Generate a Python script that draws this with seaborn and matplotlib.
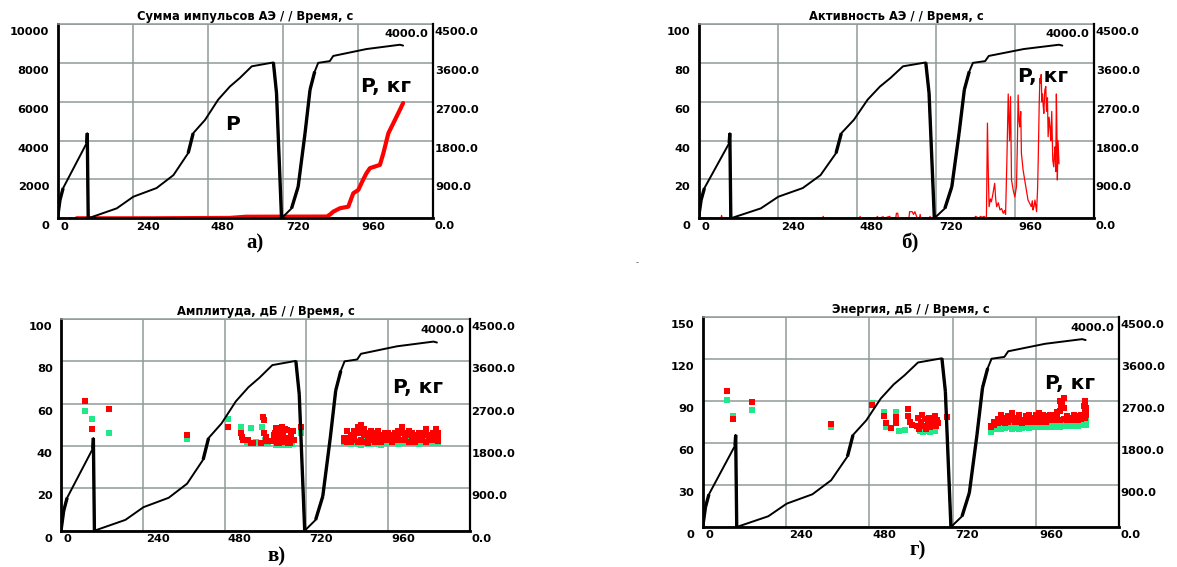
import matplotlib
matplotlib.use("Agg")
import matplotlib.pyplot as plt
import matplotlib.transforms as mtransforms
import numpy as np
import seaborn as sns

# load P, kg (right axis) -- same loading history on all four panels
p_time = [0, 8, 18, 93, 95, 98, 189, 242, 316, 370, 417, 433, 471, 513, 550, 582,
          620, 689, 699, 715, 747, 768, 790, 806, 821, 832, 869, 880, 986, 1093, 1103]
p_kg = [0, 425, 700, 1740, 1970, 0, 230, 500, 700, 1000, 1510, 1970, 2280, 2750, 3050, 3250,
        3520, 3610, 2900, 0, 230, 730, 1970, 2980, 3400, 3600, 3640, 3760, 3920, 4020, 4000]

# а) cumulative AE counts
sum_time = [61, 300, 550, 600, 860, 870, 880, 901, 928, 944, 960, 975, 986, 997,
            1029, 1040, 1056, 1072, 1093, 1103]
sum_counts = [0, 0, 20, 80, 90, 200, 340, 515, 600, 1290, 1460, 1975, 2320, 2580,
              2750, 3350, 4380, 4900, 5590, 5930]

# б) AE activity
act_time = [0, 68, 70, 72, 94, 96, 98,
            376, 378, 380, 488, 490, 492, 540, 542, 546, 560, 562, 580, 582,
            598, 600, 604, 606, 638, 640, 648, 652, 656, 660, 664, 670, 672, 674,
            700, 702, 704, 836, 840, 845, 850, 855, 860, 866, 870, 873,
            876, 879, 881, 885, 888, 892, 898, 901, 904, 909,
            914, 919, 924, 928, 931, 935, 939, 943, 946, 949,
            954, 959, 964, 967, 969, 972, 974, 977, 979, 984,
            989, 994, 999, 1004, 1009, 1012, 1014, 1017, 1020, 1025,
            1028, 1030, 1033, 1035, 1037, 1039, 1041, 1043, 1045, 1047,
            1050, 1053, 1055, 1058, 1060, 1063, 1066, 1068, 1071, 1074,
            1077, 1079, 1081, 1083, 1085, 1087, 1088, 1090, 1093]
act_rate = [0, 0, 1.5, 0, 0, 1.2, 0,
            0, 1, 0, 0, 1, 0, 0, 1, 0, 0.8, 0, 1, 0,
            0, 2.6, 2.6, 0, 0, 3.4, 3.4, 2, 3.4, 1.5, 0, 0, 2, 0,
            0, 1, 0, 0, 1, 0.5, 0, 1, 0.5, 1, 0, 1,
            49, 20, 6, 10, 8.5, 12, 18, 10, 6, 8,
            4.3, 5, 2.6, 4, 2, 30, 64, 40, 62.6, 19.7,
            14.6, 11, 16.3, 40, 63.5, 50, 47, 55, 33.5, 25,
            19.7, 14.6, 9.4, 7.7, 6, 9, 4.3, 6, 9.4, 3.4,
            15, 30, 59, 72, 69.5, 74, 60, 64, 58, 54,
            66, 67.8, 55, 62, 42, 52, 46, 40, 55, 30,
            26.5, 33, 36.8, 24, 64, 40, 19.7, 40, 28]

# hits in the dense band at the end of the test (в, г)
band_time = [830, 840, 850, 860, 870, 880, 890, 900, 910, 920, 930, 940, 950, 960, 970,
             980, 990, 1000, 1010, 1020, 1030, 1040, 1050, 1060, 1070, 1080, 1090, 1100, 1105]

# в) amplitude, dB
amp_red_time = [70, 92, 142, 370, 491]
amp_red_db = [61.3, 48, 57.5, 45.2, 49]
amp_green_time = [70, 92, 142, 370, 491]
amp_green_db = [56.5, 52.6, 46.3, 43.2, 52.8]
amp_mid_red_time = [527, 530, 535, 550, 556, 564, 586, 594, 595, 597, 600, 604, 623, 626, 628,
                    632, 634, 636, 640, 642, 644, 648, 650, 652, 656, 658, 660, 664, 666, 668,
                    672, 676, 680, 684, 703]
amp_mid_red_db = [46.3, 44.4, 42.8, 42.8, 41.2, 41.2, 41.2, 53.6, 52.2, 46, 44.4, 42.5, 42.5, 45, 46,
                  48.5, 41.5, 44, 41.5, 46, 47, 49, 43, 45.5, 42, 48, 44, 47.5, 41.5, 44,
                  41.5, 45, 47, 43, 49]
amp_mid_green_time = [527, 545, 557, 571, 590, 598, 603, 608, 630, 638, 646, 654, 662, 670, 678, 703]
amp_mid_green_db = [49, 41.5, 48.3, 42, 49, 43, 41.2, 41.5, 40.4, 40.4, 40.4, 40.4, 40.4, 40.4, 40.8, 46.3]
amp_band_red_top = [44, 47, 45, 47, 49, 50, 48, 46, 47, 46, 47, 45, 46, 46, 45,
                    46, 47, 49, 46, 47, 46, 45, 46, 46, 48, 45, 46, 48, 46]
amp_band_red_mid = [43, 44, 43, 45, 46, 47, 45, 44, 45, 44, 45, 44, 44, 45, 44,
                    45, 45, 46, 45, 45, 44, 44, 45, 44, 45, 44, 45, 45, 44]
amp_band_red_low = [42.5, 42, 42, 43, 42, 43, 42, 41.5, 43, 42, 43, 42, 43, 43, 42,
                    43, 43, 43, 43, 42, 43, 42, 43, 43, 42, 43, 43, 43, 42.5]
amp_band_green_low = [41.5, 41.5, 41, 41.5, 41, 40.5, 41.5, 41, 41, 41.5, 41, 40.5, 41.5, 41.5, 41.5,
                      41.5, 41, 41.5, 41.5, 41.5, 41.5, 41.5, 41, 41.5, 41.5, 41.5, 41.5, 41.5, 41.5]
amp_band_green_up = [43, 42.5, 43, 43, 42.5, 42, 43, 42.5, 42.5, 43, 42.5, 43, 43, 42.5, 43,
                     43, 42.5, 43, 43, 42.5, 43, 43, 42.5, 43, 42.5, 43, 43, 43, 43]

# г) energy, dB
en_red_time = [69, 88, 143, 370, 488]
en_red_db = [96.8, 76.8, 88.9, 73.2, 87]
en_green_time = [69, 88, 143, 370, 488]
en_green_db = [90.9, 79.2, 83.2, 71.1, 88.5]
en_mid_red_time = [523, 527, 542, 556, 556, 590, 592, 596, 602, 616, 620, 624, 628, 632, 636,
                   640, 644, 648, 652, 656, 660, 664, 668, 672, 676, 679, 704]
en_mid_red_db = [79.4, 74, 70.4, 78.7, 74, 79.4, 84, 75, 73, 72, 78, 70, 75, 80, 72,
                 77, 70, 74, 78, 71, 76, 73, 79, 72, 76, 74, 78.7]
en_mid_green_time = [523, 527, 556, 564, 583, 625, 635, 645, 655, 665, 670]
en_mid_green_db = [81.8, 71.6, 81.8, 68.5, 69, 68.5, 68, 68.5, 68, 68.5, 68.5]
en_band_red_top = [72, 75, 77, 80, 78, 79, 81, 78, 80, 76, 79, 80, 78, 80, 81,
                   80, 79, 80, 80, 82, 90, 92, 79, 78, 80, 79, 80, 88, 85]
en_band_red_mid = [71.5, 74, 75.5, 77, 76, 77, 78, 76.5, 77, 75, 77, 77.5, 76.5, 78, 78,
                   77.5, 77, 78, 78, 79, 83, 85, 77.5, 77, 78, 77.5, 78.5, 83, 82]
en_band_red_low = [71, 73, 74, 75, 74, 75, 76, 75, 75, 74, 75, 75, 75, 76, 75,
                   75, 75, 76, 76, 76, 76, 77, 76, 76, 76, 76, 77, 78, 80]
en_band_green_low = [68, 70, 70, 70, 70.5, 71, 70, 70.5, 70, 70.5, 71, 70.5, 71, 71, 71,
                     71, 71.5, 71.5, 71, 71.5, 71.5, 72, 72, 72, 72, 72, 72.5, 72.5, 73]
en_band_green_up = [70, 72, 72, 72.5, 72, 73, 72.5, 72, 72.5, 72, 73, 72.5, 73, 73, 73,
                    73, 73.5, 73.5, 73.5, 73.5, 74, 74, 74, 74, 74.5, 75, 75, 76, 77]
en_spike_time = [1032, 1036, 1097, 1100]
en_spike_db = [86, 89, 86, 90]

time_ticks = [0, 240, 480, 720, 960]
p_ticks = [0, 900, 1800, 2700, 3600, 4500]

W, H = 1177, 567
GRID = "#8f9a9a"
RED = "#ff0000"
GREEN = "#22e88c"
FS = 8.2

sns.set_style("white")
plt.rcParams["font.family"] = ["DejaVu Sans"]
plt.rcParams["font.weight"] = "bold"
plt.rcParams["text.color"] = "black"
plt.rcParams["axes.labelcolor"] = "black"
plt.rcParams["xtick.color"] = "black"
plt.rcParams["ytick.color"] = "black"

fig = plt.figure(figsize=(W / 100, H / 100), dpi=100)


def px_rect(x0, y0, x1, y1):
    return [x0 / W, 1 - y1 / H, (x1 - x0) / W, (y1 - y0) / H]


def shift(labels, dx, dy):
    off = mtransforms.ScaledTranslation(dx / 100, -dy / 100, fig.dpi_scale_trans)
    for lb in labels:
        lb.set_transform(lb.get_transform() + off)


def make_panel(rect, title, ymax, ystep):
    ax = fig.add_axes(rect)
    ax2 = ax.twinx()

    # load curve, steep parts drawn heavier like the original recorder
    sns.lineplot(x=p_time, y=p_kg, ax=ax2, color="black", linewidth=1.4,
                 sort=False, estimator=None, legend=False)
    t = np.array(p_time, dtype=float)
    p = np.array(p_kg, dtype=float)
    steep = np.abs(np.diff(p) / np.diff(t)) > 20
    for i in np.flatnonzero(steep):
        ax2.plot(t[i:i + 2], p[i:i + 2], color="black", lw=2.4, solid_capstyle="butt")

    ax.set_xlim(0, 1200)
    ax.set_ylim(0, ymax)
    ax.set_xticks(time_ticks)
    ax.set_yticks(np.arange(0, ymax + 1, ystep))
    ax.grid(True, color=GRID, lw=1.1)
    ax.set_axisbelow(True)
    ax.set_xlabel("")
    ax.set_ylabel("")
    for side in ("left", "bottom"):
        ax.spines[side].set_color("black")
        ax.spines[side].set_linewidth(2)
    ax.spines["top"].set_color(GRID)
    ax.spines["top"].set_linewidth(1.1)
    ax.spines["right"].set_visible(False)
    ax.tick_params(axis="x", direction="out", length=6, width=1, color="black",
                   pad=-3.6, labelsize=FS, labelcolor="black")
    ax.tick_params(axis="y", length=0, pad=6, labelsize=FS, labelcolor="black")
    ax.set_title(title, fontsize=8.3, fontweight="bold", pad=3, color="black")

    ax2.set_xlim(0, 1200)
    ax2.set_ylim(0, 4500)
    ax2.set_yticks(p_ticks)
    ax2.set_yticklabels([f"{v:.1f}" for v in p_ticks])
    ax2.set_ylabel("")
    ax2.tick_params(axis="y", length=0, pad=1, labelsize=FS, labelcolor="black")
    for side in ("left", "bottom", "top"):
        ax2.spines[side].set_visible(False)
    ax2.spines["right"].set_color("black")
    ax2.spines["right"].set_linewidth(1.6)

    xl = ax.get_xticklabels()
    for lb in xl:
        lb.set_ha("left")
    shift(xl, 3, 0)
    yl = ax.get_yticklabels()
    for lb in yl:
        lb.set_va("top")
    shift(yl, 0, 3)
    yr = ax2.get_yticklabels()
    for lb in yr:
        lb.set_va("top")
    shift(yr, 0, 3)

    ax2.text(0.987, 0.933, "4000.0", transform=ax.transAxes, ha="right",
             va="baseline", fontsize=FS, color="black")
    return ax, ax2


def scatter_hits(ax, t, v, color):
    sns.scatterplot(x=t, y=v, ax=ax, color=color, marker="s", s=14,
                    linewidth=0, legend=False, zorder=3)


def big_label(ax, ax2, x, y, s):
    ax2.text(x, y, s, transform=ax.transAxes, ha="center", va="baseline",
             fontsize=14.5, fontweight="bold", color="black")


# а) Сумма импульсов
ax, ax2 = make_panel(px_rect(57.5, 24, 433.5, 218.3), "Сумма импульсов АЭ / / Время, с", 10000, 2000)
sns.lineplot(x=sum_time, y=sum_counts, ax=ax, color=RED, linewidth=3,
             sort=False, estimator=None, legend=False)
ax.set_xlim(0, 1200)
ax.set_ylim(0, 10000)
ax.set_xlabel("")
ax.set_ylabel("")
big_label(ax, ax2, 0.465, 0.454, "P")
big_label(ax, ax2, 0.875, 0.649, "P, кг")

# б) Активность
ax, ax2 = make_panel(px_rect(698.5, 24, 1094.3, 218.3), "Активность АЭ / / Время, с", 100, 20)
sns.lineplot(x=act_time, y=act_rate, ax=ax, color=RED, linewidth=0.9,
             sort=False, estimator=None, legend=False)
ax.set_xlim(0, 1200)
ax.set_ylim(0, 100)
ax.set_xlabel("")
ax.set_ylabel("")
big_label(ax, ax2, 0.870, 0.701, "P, кг")

# в) Амплитуда
ax, ax2 = make_panel(px_rect(61, 319, 470, 530.7), "Амплитуда, дБ / / Время, с", 100, 20)
band_t2 = band_time + band_time
band_t3 = band_time + band_time + band_time
scatter_hits(ax, amp_green_time + amp_mid_green_time + band_t2,
             amp_green_db + amp_mid_green_db + amp_band_green_low + amp_band_green_up, GREEN)
scatter_hits(ax, amp_red_time + amp_mid_red_time + band_t3,
             amp_red_db + amp_mid_red_db + amp_band_red_low + amp_band_red_mid + amp_band_red_top, RED)
ax.set_xlim(0, 1200)
ax.set_ylim(0, 100)
ax.set_xlabel("")
ax.set_ylabel("")
big_label(ax, ax2, 0.873, 0.649, "P, кг")

# г) Энергия
ax, ax2 = make_panel(px_rect(702.7, 316.7, 1119.3, 527), "Энергия, дБ / / Время, с", 150, 30)
scatter_hits(ax, en_green_time + en_mid_green_time + band_t2,
             en_green_db + en_mid_green_db + en_band_green_low + en_band_green_up, GREEN)
scatter_hits(ax, en_red_time + en_mid_red_time + band_t3 + en_spike_time,
             en_red_db + en_mid_red_db + en_band_red_low + en_band_red_mid + en_band_red_top
             + en_spike_db, RED)
ax.set_xlim(0, 1200)
ax.set_ylim(0, 150)
ax.set_xlabel("")
ax.set_ylabel("")
big_label(ax, ax2, 0.882, 0.656, "P, кг")

# panel letters
for x, y, s in [(255, 243, "а)"), (910, 243, "б)"), (277, 556, "в)"), (918, 550, "г)")]:
    fig.text(x / W, 1 - y / H, s, ha="center", va="center", fontsize=15,
             fontweight="bold", family=["Liberation Serif", "DejaVu Serif"], color="black")
fig.text(637 / W, 1 - 263 / H, "-", ha="center", va="center", fontsize=6,
         fontweight="normal", color="#555555")

fig.savefig("out.png", dpi=100)
